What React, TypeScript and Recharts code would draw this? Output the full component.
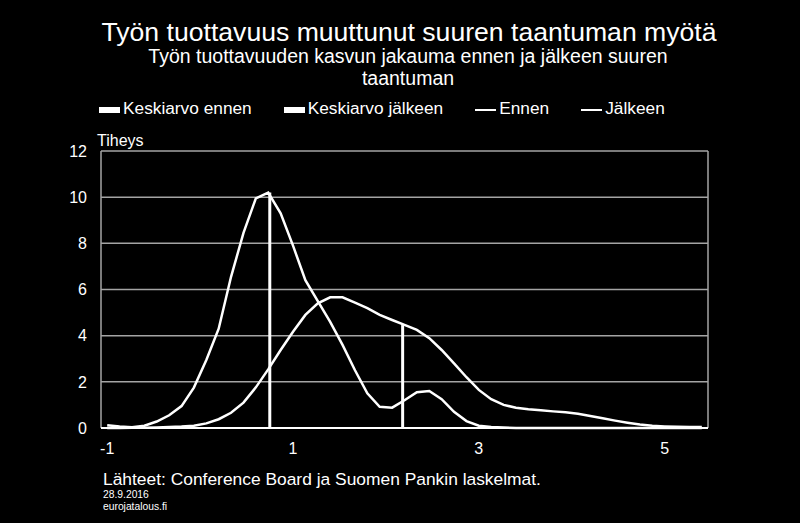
import React from "react";
import { LineChart, Line, XAxis, YAxis, CartesianGrid } from "recharts";

// x grid of the density estimate (category labels -1, 1, 3, 5 every 15th point)
const xValues = [
  -1, -0.867, -0.733, -0.6, -0.467, -0.333, -0.2, -0.067, 0.067, 0.2, 0.333,
  0.467, 0.6, 0.733, 0.867, 1, 1.133, 1.267, 1.4, 1.533, 1.667, 1.8, 1.933,
  2.067, 2.2, 2.333, 2.467, 2.6, 2.733, 2.867, 3, 3.133, 3.267, 3.4, 3.533,
  3.667, 3.8, 3.933, 4.067, 4.2, 4.333, 4.467, 4.6, 4.733, 4.867, 5, 5.133,
  5.267, 5.4,
];

const ennen = [
  0, 0, 0.01, 0.01, 0.02, 0.04, 0.06, 0.1, 0.2, 0.38, 0.66, 1.1, 1.76, 2.54,
  3.38, 4.17, 4.9, 5.4, 5.66, 5.66, 5.43, 5.19, 4.9, 4.68, 4.47, 4.25, 3.89,
  3.38, 2.8, 2.2, 1.65, 1.25, 1.0, 0.88, 0.81, 0.77, 0.72, 0.68, 0.62, 0.52,
  0.42, 0.32, 0.23, 0.15, 0.1, 0.07, 0.05, 0.04, 0.04,
];

const jalkeen = [
  0.12, 0.06, 0.03, 0.1, 0.28, 0.55, 0.95, 1.75, 2.95, 4.3, 6.55, 8.45, 9.95,
  10.2, 9.3, 7.9, 6.4, 5.5, 4.6, 3.6, 2.5, 1.5, 0.92, 0.88, 1.2, 1.55, 1.6,
  1.25, 0.7, 0.3, 0.1, 0.04, 0.02, 0, 0, 0, 0, 0, 0, 0, 0, 0, 0, 0, 0, 0, 0, 0,
  0,
];

const meanEnnen = { x: 2.18, y: 4.46 };
const meanJalkeen = { x: 0.75, y: 10.2 };

const xTicks = [-1, 1, 3, 5];
const yTicks = [0, 2, 4, 6, 8, 10, 12];

const legendItems = [
  { label: "Keskiarvo ennen", kind: "rect" },
  { label: "Keskiarvo jälkeen", kind: "rect" },
  { label: "Ennen", kind: "line" },
  { label: "Jälkeen", kind: "line" },
];

const rows = xValues.map((x, i) => ({ x, ennen: ennen[i], jalkeen: jalkeen[i] }));
const meanEnnenData = [
  { x: meanEnnen.x, y: 0 },
  { x: meanEnnen.x, y: meanEnnen.y },
];
const meanJalkeenData = [
  { x: meanJalkeen.x, y: 0 },
  { x: meanJalkeen.x, y: meanJalkeen.y },
];

const FONT = "'Liberation Sans', Arial, sans-serif";
const GRID = "#a4a4a4";
const tickStyle = { fill: "#ffffff", fontSize: 16, fontFamily: FONT };

// left and right edges of the plot area as the frame
const frameEdges = (props: any) => {
  const off = props.offset;
  return [off.left, off.left + off.width];
};

export default function App() {
  return (
    <div
      style={{
        position: "fixed",
        left: 0,
        top: 0,
        width: 800,
        height: 523,
        background: "#000",
        color: "#fff",
        fontFamily: FONT,
        overflow: "hidden",
      }}
    >
      <div
        style={{
          position: "absolute",
          top: 18.5,
          left: 9,
          width: 800,
          textAlign: "center",
          fontSize: 26.6,
          lineHeight: 1,
        }}
      >
        Työn tuottavuus muuttunut suuren taantuman myötä
      </div>
      <div
        style={{
          position: "absolute",
          top: 45,
          left: 8,
          width: 800,
          textAlign: "center",
          fontSize: 19.5,
          lineHeight: "22px",
        }}
      >
        Työn tuottavuuden kasvun jakauma ennen ja jälkeen suuren
        <br />
        taantuman
      </div>

      <div
        style={{
          position: "absolute",
          top: 99.5,
          left: 99,
          display: "flex",
          gap: 32,
          fontSize: 17.3,
          lineHeight: 1,
        }}
      >
        {legendItems.map((it) => (
          <div key={it.label} style={{ display: "flex", alignItems: "flex-start" }}>
            <span
              style={{
                display: "inline-block",
                width: 21,
                height: it.kind === "rect" ? 6 : 2.5,
                marginTop: it.kind === "rect" ? 7 : 9,
                marginRight: 3,
                background: "#fff",
              }}
            />
            <span>{it.label}</span>
          </div>
        ))}
      </div>

      <div
        style={{
          position: "absolute",
          top: 132.5,
          left: 97,
          fontSize: 16,
          lineHeight: 1,
        }}
      >
        Tiheys
      </div>

      <div style={{ position: "absolute", left: 0, top: 0 }}>
        <LineChart
          width={800}
          height={523}
          data={rows}
          margin={{ top: 151, right: 92, bottom: 65, left: 0 }}
        >
          <CartesianGrid
            stroke={GRID}
            strokeWidth={1.5}
            verticalCoordinatesGenerator={frameEdges}
          />
          <XAxis
            dataKey="x"
            type="number"
            domain={[-1.0667, 5.4667]}
            allowDataOverflow
            ticks={xTicks}
            tickLine={false}
            tickSize={0}
            tickMargin={15}
            height={30}
            axisLine={{ stroke: "#ffffff", strokeWidth: 2 }}
            tick={tickStyle}
          />
          <YAxis
            domain={[0, 12]}
            ticks={yTicks}
            tickLine={false}
            tickSize={0}
            tickMargin={14}
            width={101}
            axisLine={false}
            tick={tickStyle}
          />
          <Line
            dataKey="ennen"
            name="Ennen"
            type="linear"
            stroke="#ffffff"
            strokeWidth={2.5}
            dot={false}
            isAnimationActive={false}
          />
          <Line
            dataKey="jalkeen"
            name="Jälkeen"
            type="linear"
            stroke="#ffffff"
            strokeWidth={2.5}
            dot={false}
            isAnimationActive={false}
          />
          <Line
            data={meanEnnenData}
            dataKey="y"
            name="Keskiarvo ennen"
            type="linear"
            stroke="#ffffff"
            strokeWidth={3}
            dot={false}
            isAnimationActive={false}
          />
          <Line
            data={meanJalkeenData}
            dataKey="y"
            name="Keskiarvo jälkeen"
            type="linear"
            stroke="#ffffff"
            strokeWidth={3}
            dot={false}
            isAnimationActive={false}
          />
        </LineChart>
      </div>

      <div
        style={{
          position: "absolute",
          top: 471,
          left: 103,
          fontSize: 17.4,
          lineHeight: 1,
        }}
      >
        Lähteet: Conference Board ja Suomen Pankin laskelmat.
      </div>
      <div
        style={{
          position: "absolute",
          top: 489.5,
          left: 103,
          fontSize: 10.3,
          lineHeight: 1,
        }}
      >
        28.9.2016
      </div>
      <div
        style={{
          position: "absolute",
          top: 501.5,
          left: 103,
          fontSize: 10.3,
          lineHeight: 1,
        }}
      >
        eurojatalous.fi
      </div>
    </div>
  );
}
